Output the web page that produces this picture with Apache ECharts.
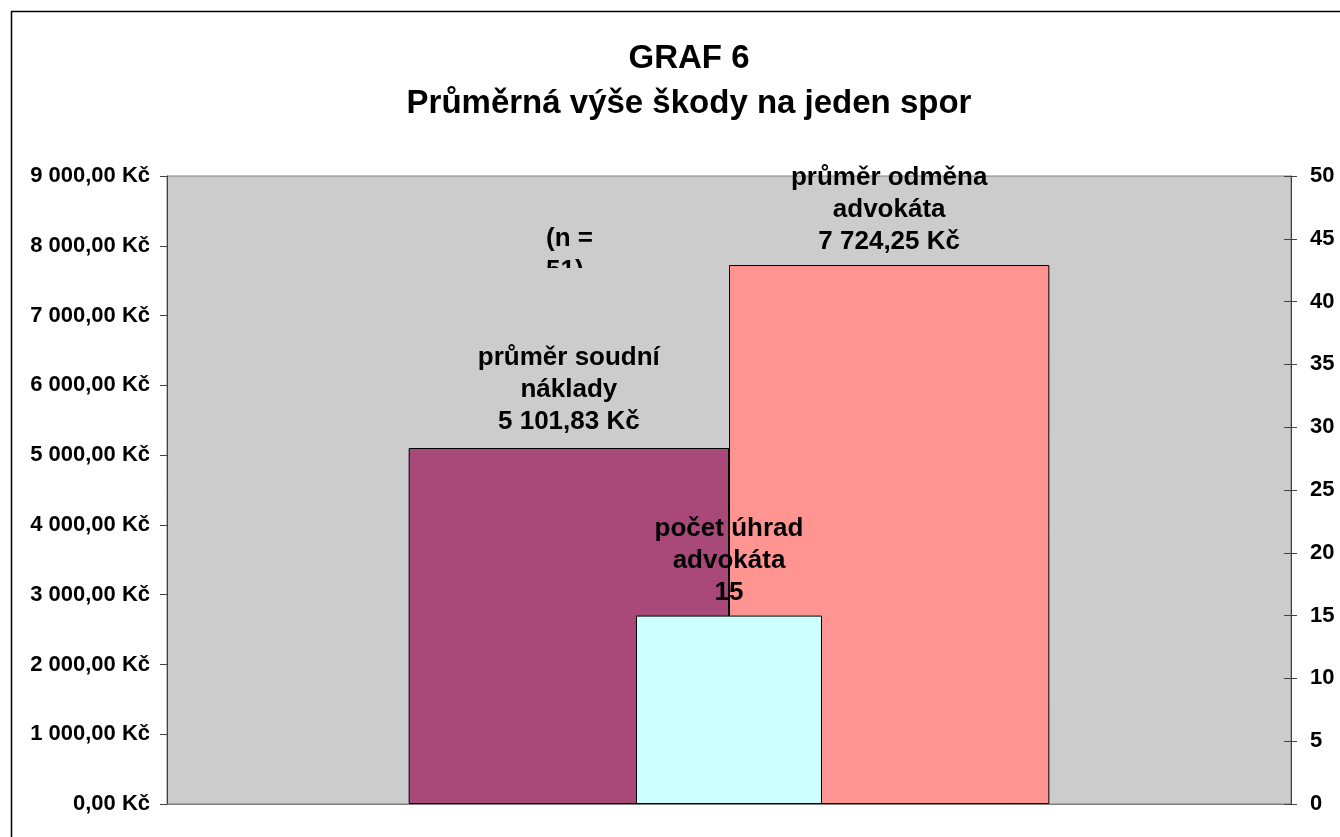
<!DOCTYPE html>
<html>
<head>
<meta charset="utf-8">
<script src="https://cdn.jsdelivr.net/npm/echarts@6/dist/echarts.min.js"></script>
<style>
  html, body { margin: 0; padding: 0; background: #fff; }
  #chart { width: 1340px; height: 837px; }
</style>
</head>
<body>
<div id="chart"></div>
<script>
// data
const categories = [''];
const soudniNaklady = [5101.83];
const odmenaAdvokata = [7724.25];
const pocetUhrad = [15];
const seriesNames = ['průměr soudní\nnáklady', 'průměr odměna\nadvokáta', 'počet úhrad\nadvokáta'];
const leftMax = 9000, leftStep = 1000;
const rightMax = 50, rightStep = 5;

const font = '"Liberation Sans", Arial, sans-serif';

// formát 5 101,83 Kč
function kc(v) {
  let parts = v.toFixed(2).split('.');
  let whole = parts[0].replace(/\B(?=(\d{3})+(?!\d))/g, ' ');
  return whole + ',' + parts[1] + ' Kč';
}

const labelStyle = {
  show: true,
  position: 'top',
  distance: 7,
  color: '#000',
  fontFamily: font,
  fontWeight: 'bold',
  fontSize: 26,
  lineHeight: 32,
  align: 'center'
};

const chart = echarts.init(document.getElementById('chart'));

let option = {
  backgroundColor: '#fff',
  animation: false,
  title: {
    text: 'GRAF 6\nPrůměrná výše škody na jeden spor',
    left: 684,
    top: 31,
    textAlign: 'center',
    textStyle: {
      fontFamily: font,
      fontWeight: 'bold',
      fontSize: 33,
      lineHeight: 45,
      color: '#000'
    }
  },
  grid: {
    left: 167, right: 49, top: 176, bottom: 33,
    show: true,
    backgroundColor: '#cccccc',
    borderColor: '#808080',
    borderWidth: 1
  },
  xAxis: [
    {
      type: 'category',
      data: categories,
      axisLine: { lineStyle: { color: '#808080' } },
      axisTick: { show: false },
      axisLabel: { show: false }
    },
    {
      type: 'category',
      data: categories,
      show: false
    }
  ],
  yAxis: [
    {
      type: 'value',
      min: 0, max: leftMax, interval: leftStep,
      position: 'left',
      splitLine: { show: false },
      axisLine: { show: true, lineStyle: { color: '#404040' } },
      axisTick: { show: true, length: 7, lineStyle: { color: '#404040' } },
      axisLabel: {
        formatter: kc,
        margin: 17,
        color: '#000',
        fontFamily: font,
        fontWeight: 'bold',
        fontSize: 22
      }
    },
    {
      type: 'value',
      min: 0, max: rightMax, interval: rightStep,
      position: 'right',
      splitLine: { show: false },
      axisLine: { show: true, lineStyle: { color: '#404040' } },
      axisTick: { show: true, length: 6, lineStyle: { color: '#404040' } },
      axisLabel: {
        margin: 19,
        color: '#000',
        fontFamily: font,
        fontWeight: 'bold',
        fontSize: 22
      }
    },
    {
      // vnitřní část značek pravé osy
      type: 'value',
      min: 0, max: rightMax, interval: rightStep,
      position: 'right',
      splitLine: { show: false },
      axisLine: { show: false },
      axisTick: { show: true, inside: true, length: 7, lineStyle: { color: '#404040' } },
      axisLabel: { show: false }
    }
  ],
  series: [
    {
      name: seriesNames[0],
      type: 'bar',
      xAxisIndex: 0,
      yAxisIndex: 0,
      data: soudniNaklady,
      barGap: '0%',
      barCategoryGap: '43%',
      itemStyle: { color: '#a8497a', borderColor: '#000', borderWidth: 1 },
      label: Object.assign({}, labelStyle, {
        distance: 10,
        formatter: p => seriesNames[0] + '\n' + kc(p.value)
      }),
      z: 2
    },
    {
      name: seriesNames[1],
      type: 'bar',
      xAxisIndex: 0,
      yAxisIndex: 0,
      data: odmenaAdvokata,
      barGap: '0%',
      barCategoryGap: '43%',
      itemStyle: { color: '#ff9490', borderColor: '#000', borderWidth: 1 },
      label: Object.assign({}, labelStyle, {
        formatter: p => seriesNames[1] + '\n' + kc(p.value)
      }),
      z: 2
    },
    {
      name: seriesNames[2],
      type: 'bar',
      xAxisIndex: 1,
      yAxisIndex: 1,
      data: pocetUhrad,
      barWidth: 186,
      itemStyle: { color: '#ccffff', borderColor: '#000', borderWidth: 1 },
      label: Object.assign({}, labelStyle, {
        formatter: p => seriesNames[2] + '\n' + p.value
      }),
      z: 3
    }
  ],
  graphic: [
    {
      // vnější rámeček
      type: 'rect',
      left: 9, top: 9,
      shape: { width: 1340, height: 840 },
      style: { fill: 'none', stroke: '#000', lineWidth: 1.5 },
      silent: true
    },
    {
      type: 'text',
      left: 546, top: 223,
      style: {
        text: '(n =\n51)',
        fill: '#000',
        font: 'bold 26px ' + font,
        lineHeight: 32
      },
      z: 10
    },
    {
      // oříznutý textový rámeček
      type: 'rect',
      left: 540, top: 268,
      shape: { width: 90, height: 30 },
      style: { fill: '#cccccc' },
      z: 11
    }
  ]
};

chart.setOption(option);
window.onresize = () => chart.resize();
</script>
</body>
</html>
